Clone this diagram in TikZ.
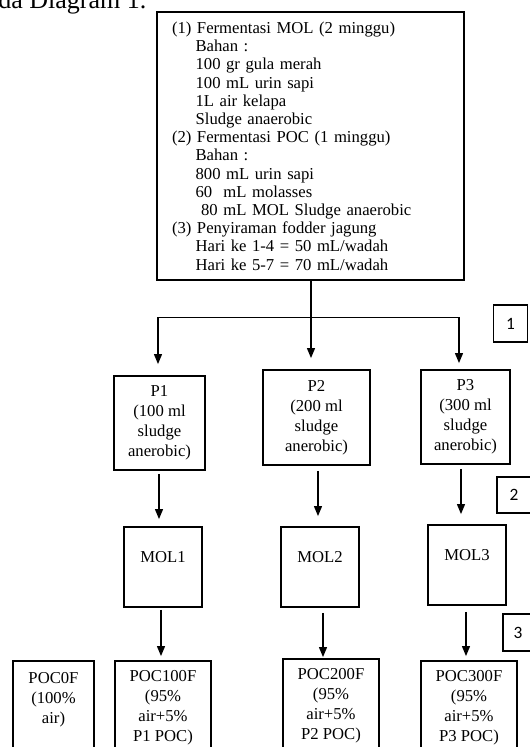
\documentclass[tikz,border=0pt]{standalone}
\usepackage{fontspec}
\setmainfont{Liberation Serif}
\newfontfamily\calfont{Carlito}
\usetikzlibrary{arrows.meta}
\newcommand\ind{\hspace*{1.416em}}
\begin{document}
\begin{tikzpicture}[x=0.75pt,y=-0.75pt,
  box/.style={draw, line width=1.4pt, rectangle, inner sep=0pt, align=center,
    font=\fontsize{12.5}{15}\selectfont},
  numbox/.style={draw, line width=1.1pt, rectangle, inner sep=0pt,
    font=\calfont\fontsize{13}{15}\selectfont},
  arr/.style={-{Triangle[length=7.5pt,width=6pt]}, line width=0.9pt},
  thinline/.style={line width=0.75pt}]
\useasboundingbox (0,0) rectangle (530,747);

\node[anchor=base west, inner sep=0pt, font=\fontsize{19.5}{22}\selectfont] (head) at (-2,8) {da Diagram 1.};

\node[box, line width=1.5pt, minimum width=307*0.75pt, minimum height=268*0.75pt,
  text width=277*0.75pt, align=left, font=\fontsize{12.5}{13.65}\selectfont] (main) at (310.5,146)
{(1) Fermentasi MOL (2 minggu)\\
\ind Bahan :\\
\ind 100 gr gula merah\\
\ind 100 mL urin sapi\\
\ind 1L air kelapa\\
\ind Sludge anaerobic\\
(2) Fermentasi POC (1 minggu)\\
\ind Bahan :\\
\ind 800 mL urin sapi\\
\ind 60\ \ mL molasses\\
\ind\ 80 mL MOL Sludge anaerobic\\
(3) Penyiraman fodder jagung\\
\ind Hari ke 1-4 = 50 mL/wadah\\
\ind Hari ke 5-7 = 70 mL/wadah};

% P boxes
\node[box, minimum width=91*0.75pt, minimum height=94*0.75pt] (P1) at (159.5,423) {P1\\(100 ml\\sludge\\anerobic)};
\node[box, minimum width=107*0.75pt, minimum height=95*0.75pt] (P2) at (316.5,417.5) {P2\\(200 ml\\sludge\\anerobic)};
\node[box, minimum width=89*0.75pt, minimum height=94*0.75pt] (P3) at (465.5,417) {P3\\(300 ml\\sludge\\anerobic)};

% MOL boxes
\node[box, minimum width=78*0.75pt, minimum height=80*0.75pt] (MOL1) at (163,567) {MOL1\\\mbox{}};
\node[box, minimum width=78*0.75pt, minimum height=80*0.75pt] (MOL2) at (320,567) {MOL2\\\mbox{}};
\node[box, minimum width=78*0.75pt, minimum height=80*0.75pt] (MOL3) at (467,565) {MOL3\\\mbox{}};

% POC boxes
\node[box, minimum width=81*0.75pt, minimum height=94*0.75pt] (POC0) at (53.5,708) {POC0F\\(100\%\\air)\\\mbox{}};
\node[box, minimum width=96*0.75pt, minimum height=94*0.75pt] (POC1) at (163,708) {POC100F\\(95\%\\air+5\%\\P1 POC)};
\node[box, minimum width=96*0.75pt, minimum height=94*0.75pt] (POC2) at (331,706) {POC200F\\(95\%\\air+5\%\\P2 POC)};
\node[box, minimum width=96*0.75pt, minimum height=94*0.75pt] (POC3) at (469,708) {POC300F\\(95\%\\air+5\%\\P3 POC)};

% number boxes
\node[numbox, minimum width=34*0.75pt, minimum height=37*0.75pt] (n1) at (510.5,323.5) {1};
\node[numbox, minimum width=34*0.75pt, minimum height=36*0.75pt] (n2) at (514,495) {2};
\node[numbox, minimum width=30*0.75pt, minimum height=37*0.75pt] (n3) at (518,632.5) {3};

% distribution
\coordinate (hL) at (158,317);
\coordinate (hM) at (311,317);
\coordinate (hR) at (459,317);
\draw[thinline] (hL) -- (hR);
\draw[arr, shorten >=8.25pt] (hL) -- (hL |- P1.north);
\draw[arr, shorten >=8.25pt] (main.south -| hM) -- (hM |- P2.north);
\draw[arr, shorten >=4.5pt] (hR) -- (hR |- P3.north);

% column connectors
\coordinate (c1a) at (159,0);
\coordinate (c1b) at (161,0);
\coordinate (c2a) at (318,0);
\coordinate (c2b) at (323,0);
\coordinate (c3a) at (461,0);
\coordinate (c3b) at (466,0);
\draw[arr, shorten <=2.25pt, shorten >=5.25pt] (P1.south -| c1a) -- (MOL1.north -| c1a);
\draw[arr, shorten <=1.5pt, shorten >=3pt] (MOL1.south -| c1b) -- (POC1.north -| c1b);
\draw[arr, shorten <=3.75pt, shorten >=7.5pt] (P2.south -| c2a) -- (MOL2.north -| c2a);
\draw[arr, shorten <=3.75pt, shorten >=0.75pt] (MOL2.south -| c2b) -- (POC2.north -| c2b);
\draw[arr, shorten <=3pt, shorten >=7.5pt] (P3.south -| c3a) -- (MOL3.north -| c3a);
\draw[arr, shorten <=4.5pt, shorten >=3pt] (MOL3.south -| c3b) -- (POC3.north -| c3b);
\end{tikzpicture}
\end{document}
